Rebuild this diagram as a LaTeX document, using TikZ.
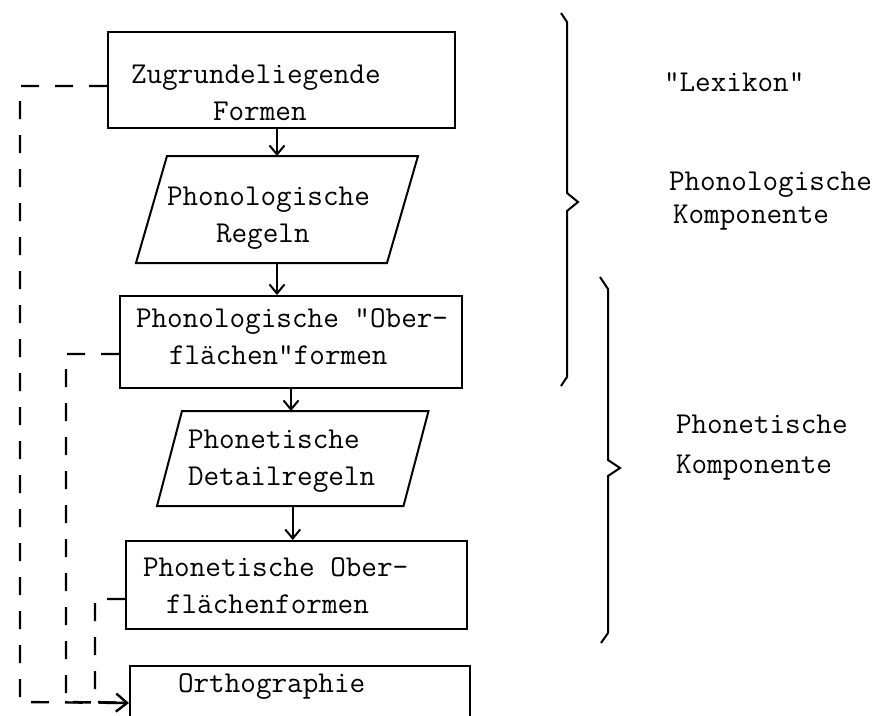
\documentclass[tikz,border=0pt]{standalone}
\usetikzlibrary{positioning,calc,arrows.meta}

\begin{document}
\begin{tikzpicture}[x=1pt,y=-1pt,line width=2pt,
    >={Straight Barb[length=9pt,width=15pt]}]
  \tikzstyle{formbox}=[draw, rectangle, inner sep=0pt]
  \tikzstyle{ruleshape}=[rectangle, inner sep=0pt]
  \tikzstyle{txt}=[anchor=west, align=left, inner sep=0pt,
    font=\ttfamily\fontsize{30.3}{37}\selectfont]
  \tikzstyle{feed}=[dash pattern=on 18pt off 16pt, line width=2.4pt]
  \useasboundingbox (0,0) rectangle (880,715);
  % Kaesten
  \node[formbox, minimum width=347pt, minimum height=96pt] (zug) at (281.5,80) {};
  \node[ruleshape, minimum width=249pt, minimum height=105pt] (phrules) at (277,209.5) {};
  \node[formbox, minimum width=342pt, minimum height=92pt] (oberfl) at (291,342) {};
  \node[ruleshape, minimum width=244.5pt, minimum height=93pt] (detail) at (292.75,458.5) {};
  \node[formbox, minimum width=341pt, minimum height=88pt] (phonoberfl) at (296.5,585) {};
  \node[formbox, minimum width=340pt, minimum height=74pt, anchor=north] (ortho) at (300,665) {};
  \foreach \p/\s in {phrules/15.5pt, detail/12.5pt}
    \draw ([xshift=-\s]\p.south west) -- ([xshift=\s]\p.north west)
      -- ([xshift=\s]\p.north east) -- ([xshift=-\s]\p.south east) -- cycle;
  % Texte
  \node[txt] (zugtext) at (130,93) {Zugrundeliegende\\\hspace*{82pt}Formen};
  \node[txt] (phrulestext) at (166,218) {Phonologische\\\hspace*{49pt}Regeln};
  \node[txt] (oberfltext) at (135,337) {Phonologische "Ober-\\\hspace*{33pt}flächen"formen};
  \node[txt] (detailtext) at (187,461) {Phonetische\\Detailregeln};
  \node[txt] (phonoberfltext) at (142,586) {Phonetische Ober-\\\hspace*{23pt}flächenformen};
  \node[txt] (orthotext) at (177,687) {Orthographie};
  % Pfeile
  \draw[->] (zug.south -| phrules.north) -- (phrules.north);
  \draw[->] (phrules.south) -- (phrules.south |- oberfl.north);
  \draw[->] (oberfl.south) -- (oberfl.south |- detail.north);
  \draw[->] (detail.south) -- (detail.south |- phonoberfl.north);
  % Rueckkopplung
  \coordinate (c1) at (20,702);
  \coordinate (c2) at (66,702);
  \coordinate (c3) at (95,702);
  \draw[feed] ([yshift=-6pt]zug.west) -| (c1) -- (ortho.west);
  \draw[feed] ([yshift=-12pt]oberfl.west) -| (c2) -- (ortho.west);
  \draw[feed,-{Straight Barb[length=11pt,width=18pt]}] ([yshift=-14pt]phonoberfl.west) -| (c3) -- (ortho.west);
  % Klammern
  \draw (561,13) -- (567,22) -- (567,193) -- (578,202) -- (567,211) -- (567,377) -- (561,386);
  \draw (600,277) -- (608,289) -- (608,460) -- (620,468) -- (608,476) -- (608,633) -- (601,643);
  \node[txt] (lexikon) at (663,82) {"Lexikon"};
  \node[txt] (phonkomp) at (668,201) {Phonologische\\[-4pt]\hspace*{4pt}Komponente};
  \node[txt] (phetkomp) at (675,448) {Phonetische\\[3pt]Komponente};
\end{tikzpicture}
\end{document}
